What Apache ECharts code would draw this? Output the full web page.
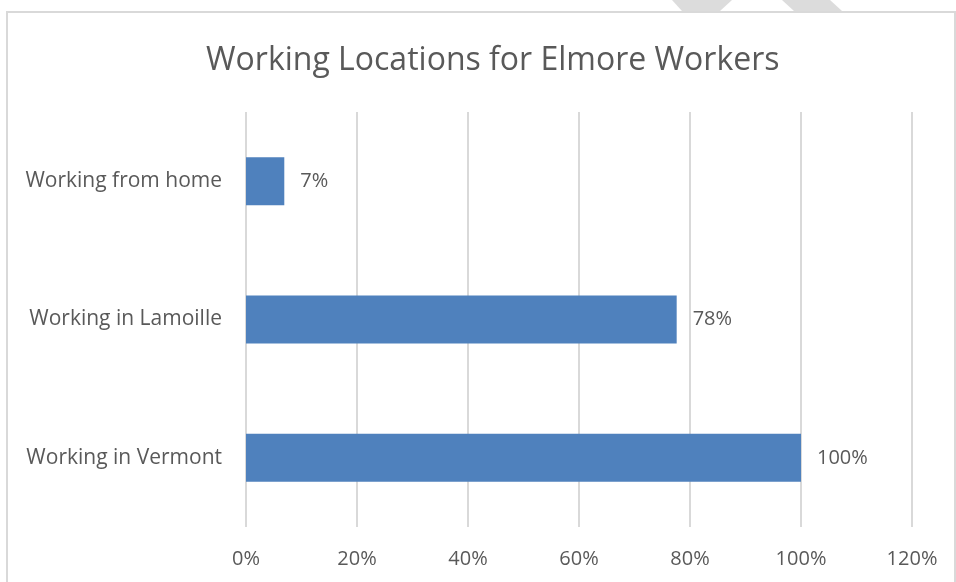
<!DOCTYPE html>
<html>
<head>
<meta charset="utf-8">
<title>Working Locations for Elmore Workers</title>
<script src="https://cdn.jsdelivr.net/npm/echarts@6/dist/echarts.min.js"></script>
<style>
  html, body { margin: 0; padding: 0; background: #fff; }
  #chart { width: 956px; height: 582px; }
</style>
</head>
<body>
<div id="chart"></div>
<script>
// categories, bottom to top as drawn on the y axis
const categories = ['Working in Vermont', 'Working in Lamoille', 'Working from home']
const shares = [1.00, 0.776, 0.069]
const tickValues = [0, 0.2, 0.4, 0.6, 0.8, 1.0, 1.2]

const textColor = '#595959'
const font = '"Open Sans", "Noto Sans", sans-serif'

const pct = v => Math.round(v * 100) + '%'

const chart = echarts.init(document.getElementById('chart'))
chart.setOption({
  backgroundColor: '#fff',
  animation: false,
  title: {
    text: 'Working Locations for Elmore Workers',
    left: 201,
    top: 40,
    textStyle: {
      color: textColor,
      fontFamily: font,
      fontSize: 32,
      fontWeight: 'normal'
    }
  },
  graphic: [
    // chart frame
    {
      type: 'rect',
      shape: { x: 7, y: 12, width: 948, height: 620 },
      style: { fill: 'none', stroke: '#d9d9d9', lineWidth: 2 },
      silent: true
    },
    // bits of a watermark peeking above the frame
    {
      type: 'polygon',
      shape: { points: [[672, 0], [732, 0], [720, 11], [682, 11]] },
      style: { fill: '#dcdcdc' },
      silent: true
    },
    {
      type: 'polygon',
      shape: { points: [[782, 0], [830, 0], [842, 11], [794, 11]] },
      style: { fill: '#dcdcdc' },
      silent: true
    }
  ],
  grid: {
    left: 246,
    right: 44,
    top: 112,
    bottom: 55,
    containLabel: false
  },
  xAxis: {
    type: 'value',
    min: tickValues[0],
    max: tickValues[tickValues.length - 1],
    interval: 0.2,
    axisLine: { show: false },
    axisTick: { show: false },
    splitLine: { lineStyle: { color: '#d9d9d9', width: 2 } },
    axisLabel: {
      color: textColor,
      fontFamily: font,
      fontSize: 20,
      margin: 22,
      formatter: pct
    }
  },
  yAxis: {
    type: 'category',
    data: categories,
    axisLine: { show: false },
    axisTick: { show: false },
    axisLabel: {
      color: textColor,
      fontFamily: font,
      fontSize: 21,
      margin: 24
    }
  },
  series: [{
    type: 'bar',
    data: shares,
    barWidth: 48,
    itemStyle: { color: '#4f81bd' },
    label: {
      show: true,
      position: 'right',
      distance: 16,
      color: textColor,
      fontFamily: font,
      fontSize: 20,
      formatter: p => pct(p.value)
    }
  }]
})
</script>
</body>
</html>
